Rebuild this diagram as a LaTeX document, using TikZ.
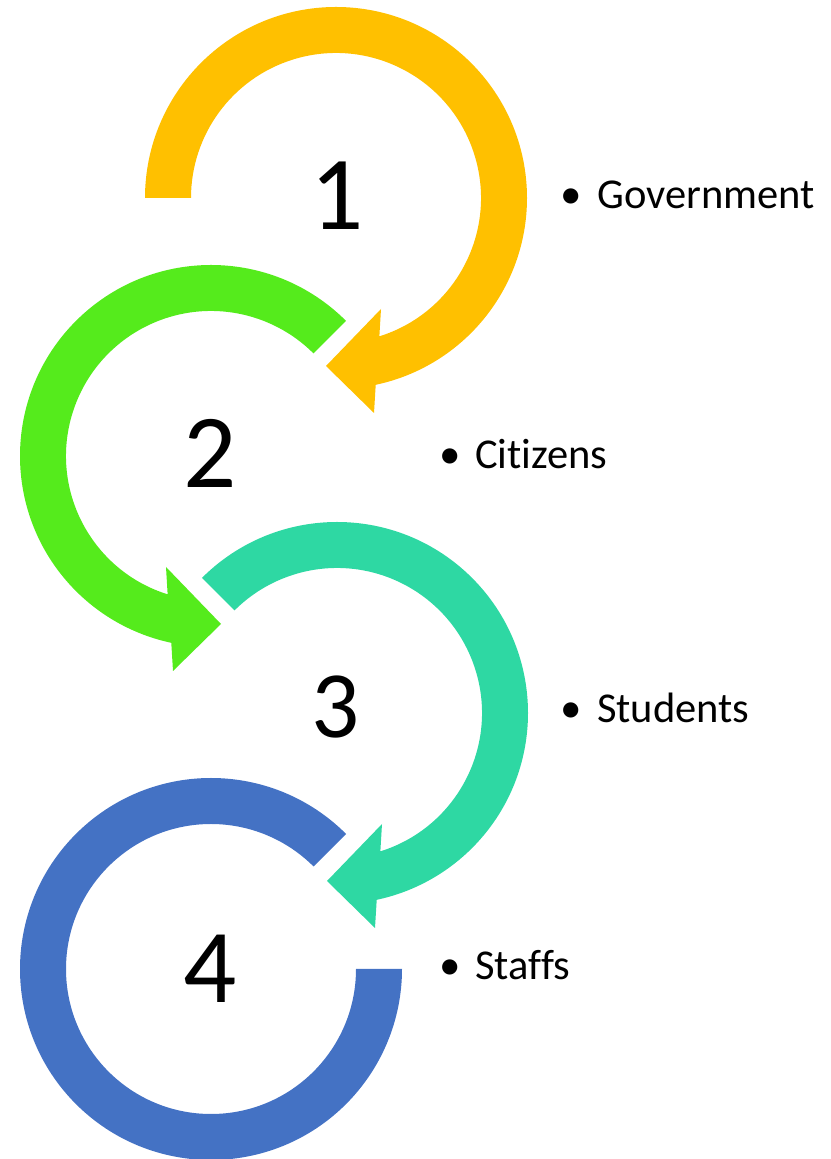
\documentclass[tikz,border=0pt]{standalone}
\usepackage{fontspec}
\setmainfont{Carlito}[Ligatures=NoCommon]
\definecolor{arrYellow}{HTML}{FFC000}
\definecolor{arrGreen}{HTML}{55EB1C}
\definecolor{arrTeal}{HTML}{2ED8A3}
\definecolor{arrBlue}{HTML}{4472C4}
% clockwise circular arrow: #1 start angle of the tail, #2 colour
\newcommand{\CwCircArrow}[2]{%
  \fill[#2] (#1:191) arc[start angle=#1, end angle=-78, radius=191]
    -- (38,-215) -- (-10,-168) -- (45,-111) -- (-72.6:145)
    arc[start angle=-72.6, end angle=#1, radius=145] -- cycle;}
% counter-clockwise circular arrow (mirror image)
\newcommand{\CcwCircArrow}[2]{%
  \fill[#2] (#1:191) arc[start angle=#1, end angle=258, radius=191]
    -- (-38,-215) -- (10,-168) -- (-45,-111) -- (252.6:145)
    arc[start angle=252.6, end angle=#1, radius=145] -- cycle;}
\begin{document}
\begin{tikzpicture}[x=1pt,y=1pt,
  numtxt/.style={inner sep=0pt, font=\fontsize{105}{105}\selectfont},
  lbltxt/.style={inner sep=0pt, anchor=base west, font=\fontsize{42.5}{42.5}\selectfont},
  bultxt/.style={inner sep=0pt, anchor=base, font=\fontsize{43}{43}\selectfont}]
\useasboundingbox (0,0) rectangle (830,1159);
% arrows
\begin{scope}[shift={(336,961)}]
  \CwCircArrow{180}{arrYellow}
\end{scope}
\begin{scope}[shift={(211,703)}]
  \CcwCircArrow{45}{arrGreen}
\end{scope}
\begin{scope}[shift={(337,446)}]
  \CwCircArrow{135}{arrTeal}
\end{scope}
\begin{scope}[shift={(211,190)}]
  \fill[arrBlue] (45:191) arc[start angle=45, end angle=360, radius=191]
    -- (0:145) arc[start angle=360, end angle=45, radius=145] -- cycle;
\end{scope}
% numbers
\node[numtxt] (n1) at (337,963) {1};
\node[numtxt] (n2) at (210,706) {2};
\node[numtxt, font=\fontsize{95}{95}\selectfont] (n3) at (336,452) {3};
\node[numtxt] (n4) at (210,190.5) {4};
% bullets and labels
\node[bultxt] (b1) at (571.5,950) {•};
\node[lbltxt] (l1) at (597,950) {Government};
\node[bultxt] (b2) at (450,690) {•};
\node[lbltxt] (l2) at (475,690) {Citizens};
\node[bultxt] (b3) at (571.5,436) {•};
\node[lbltxt] (l3) at (597,436) {Students};
\node[bultxt] (b4) at (450,179) {•};
\node[lbltxt] (l4) at (475,179) {Staffs};
\end{tikzpicture}
\end{document}
